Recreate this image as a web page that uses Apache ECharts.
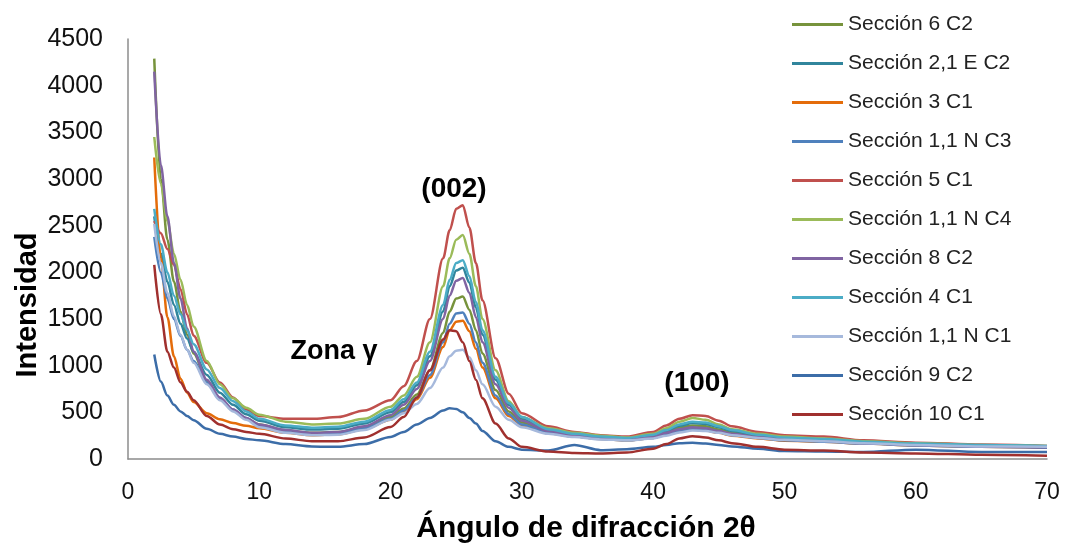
<!DOCTYPE html>
<html lang="es">
<head>
    <meta charset="UTF-8">
    <title>Difracción de rayos X</title>
    <script type="text/javascript" src="https://cdn.jsdelivr.net/npm/echarts@6/dist/echarts.min.js"></script>
    <style>
        body { margin: 0; background: #fff; }
    </style>
</head>
<body>
    <div id="main" style="width: 1068px;height:550px;"></div>

    <script type="text/javascript">
        // ángulo 2θ (muestreo)
        var angle = [2, 2.5, 3, 3.5, 4, 4.5, 5, 6, 7, 8, 9, 10, 12, 14, 16, 18, 20, 21, 22, 23, 24, 24.5, 25, 25.5,
                     26, 26.5, 27, 28, 29, 30, 32, 34, 36, 38, 40, 41, 42, 43, 44, 45, 46, 48, 50, 53, 56, 60, 65, 70];

        var s6C2   = [4290, 3000, 2350, 1900, 1580, 1330, 1130, 840, 650, 520, 430, 370, 305, 280, 290, 340, 450, 540, 690, 950, 1350, 1580, 1720, 1740, 1600, 1380, 1130, 740, 510, 390, 295, 255, 225, 210, 240, 285, 335, 360, 350, 315, 280, 240, 215, 200, 175, 155, 140, 130];
        var s21EC2 = [2600, 2200, 1900, 1650, 1450, 1290, 1150, 900, 710, 580, 480, 410, 340, 315, 325, 380, 500, 610, 790, 1100, 1580, 1850, 2020, 2050, 1890, 1620, 1330, 850, 580, 430, 310, 265, 235, 220, 250, 300, 355, 385, 375, 340, 300, 255, 225, 210, 180, 160, 145, 135];
        var s3C1   = [3230, 2150, 1520, 1100, 860, 710, 610, 490, 425, 385, 355, 330, 280, 255, 265, 320, 420, 510, 640, 870, 1200, 1380, 1470, 1480, 1370, 1180, 980, 650, 460, 360, 275, 240, 215, 200, 225, 260, 295, 315, 305, 280, 250, 220, 195, 185, 165, 145, 130, 120];
        var s11NC3 = [2380, 2000, 1720, 1500, 1320, 1170, 1050, 820, 650, 530, 440, 360, 290, 265, 275, 330, 430, 520, 660, 900, 1250, 1450, 1560, 1570, 1450, 1250, 1030, 680, 480, 370, 280, 240, 215, 200, 225, 265, 300, 320, 310, 285, 255, 225, 200, 185, 165, 145, 130, 120];
        var s5C1   = [2550, 2420, 2250, 2080, 1820, 1550, 1320, 1030, 820, 660, 530, 460, 430, 430, 450, 520, 630, 780, 1050, 1500, 2150, 2450, 2680, 2720, 2480, 2100, 1700, 1080, 700, 490, 350, 290, 255, 240, 290, 360, 430, 470, 460, 410, 350, 290, 255, 240, 200, 175, 155, 140];
        var s11NC4 = [3450, 2950, 2550, 2200, 1920, 1650, 1420, 1050, 800, 650, 550, 475, 400, 370, 380, 430, 560, 680, 880, 1250, 1850, 2150, 2350, 2400, 2200, 1850, 1500, 950, 620, 450, 330, 280, 250, 230, 270, 330, 400, 440, 420, 370, 320, 270, 240, 220, 190, 170, 150, 140];
        var s8C2   = [4150, 3150, 2600, 2100, 1720, 1400, 1150, 850, 660, 530, 440, 370, 310, 280, 290, 350, 470, 580, 750, 1050, 1500, 1750, 1910, 1940, 1780, 1520, 1250, 800, 550, 410, 300, 255, 225, 210, 235, 280, 320, 340, 330, 300, 270, 235, 210, 195, 170, 150, 135, 125];
        var s4C1   = [2680, 2300, 2000, 1750, 1550, 1380, 1230, 960, 760, 620, 510, 430, 360, 335, 345, 400, 525, 640, 820, 1150, 1650, 1920, 2100, 2130, 1960, 1680, 1380, 880, 600, 450, 320, 270, 240, 225, 260, 310, 370, 400, 390, 350, 310, 260, 230, 215, 185, 165, 150, 140];
        var s11NC1 = [2520, 2100, 1780, 1530, 1330, 1170, 1030, 800, 630, 510, 420, 340, 280, 255, 260, 310, 420, 490, 590, 760, 980, 1100, 1160, 1170, 1090, 950, 800, 560, 420, 340, 270, 235, 210, 200, 220, 250, 285, 305, 300, 280, 255, 225, 205, 190, 170, 150, 135, 130];
        var s9C2   = [1120, 830, 680, 580, 510, 460, 415, 325, 270, 240, 215, 200, 160, 135, 130, 160, 236, 290, 370, 440, 520, 545, 535, 500, 440, 380, 300, 190, 130, 100, 90, 150, 95, 105, 130, 150, 170, 175, 165, 150, 135, 110, 85, 80, 75, 100, 75, 75];
        var s10C1  = [2080, 1550, 1150, 980, 820, 720, 630, 460, 370, 320, 290, 270, 220, 190, 190, 230, 343, 450, 660, 950, 1280, 1380, 1370, 1250, 1050, 850, 650, 380, 220, 130, 80, 65, 60, 70, 110, 160, 220, 245, 230, 200, 170, 130, 100, 90, 70, 60, 45, 35];

        var names = ['Sección 6 C2', 'Sección 2,1 E C2', 'Sección 3 C1', 'Sección 1,1 N C3', 'Sección 5 C1',
                     'Sección 1,1 N C4', 'Sección 8 C2', 'Sección 4 C1', 'Sección 1,1 N C1', 'Sección 9 C2', 'Sección 10 C1'];
        var values = [s6C2, s21EC2, s3C1, s11NC3, s5C1, s11NC4, s8C2, s4C1, s11NC1, s9C2, s10C1];
        var colors = ['#77933C', '#31859C', '#E46C0A', '#4F81BD', '#C0504D', '#9BBB59',
                      '#8064A2', '#4BACC6', '#A6B9DC', '#3C6DA8', '#A0302E'];

        var font = "'Liberation Sans', Arial, sans-serif";

        var series = names.map(function (n, i) {
            return {
                name: n,
                type: 'line',
                showSymbol: false,
                smooth: 0.3,
                smoothMonotone: 'x',
                lineStyle: { width: 2.5, color: colors[i] },
                itemStyle: { color: colors[i] },
                data: angle.map(function (a, k) { return [a, values[i][k]]; })
            };
        });

        var myChart = echarts.init(document.getElementById('main'));

        var option = {
            animation: false,
            grid: { left: 128, right: 21, top: 39, bottom: 91 },
            legend: {
                orient: 'vertical',
                left: 787,
                top: 9,
                icon: 'rect',
                itemWidth: 51,
                itemHeight: 3,
                itemGap: 18,
                textStyle: { fontFamily: font, fontSize: 21, color: '#222' },
                data: names
            },
            xAxis: {
                type: 'value',
                min: 0,
                max: 70,
                interval: 10,
                axisLine: { lineStyle: { color: '#8c8c8c', width: 1.5 } },
                axisTick: { show: false },
                axisLabel: { margin: 22, fontFamily: font, fontSize: 23, color: '#111' },
                splitLine: { show: false }
            },
            yAxis: {
                type: 'value',
                min: 0,
                max: 4500,
                interval: 500,
                axisLine: { show: true, lineStyle: { color: '#8c8c8c', width: 1.5 } },
                axisTick: { show: false },
                axisLabel: {
                    margin: 25, fontFamily: font, fontSize: 25, color: '#111',
                    formatter: function (v) { return String(v); }
                },
                splitLine: { show: false }
            },
            graphic: [
                { type: 'text', x: 28, y: 305, rotation: Math.PI / 2,
                  style: { text: 'Intensidad', font: 'bold 29px ' + font, fill: '#000', align: 'center', verticalAlign: 'middle' } },
                { type: 'text', x: 586, y: 529,
                  style: { text: 'Ángulo de difracción 2θ', font: 'bold 30px ' + font, fill: '#000', align: 'center', verticalAlign: 'middle' } },
                { type: 'text', x: 454, y: 189,
                  style: { text: '(002)', font: 'bold 28px ' + font, fill: '#000', align: 'center', verticalAlign: 'middle' } },
                { type: 'text', x: 334, y: 352,
                  style: { text: 'Zona γ', font: 'bold 27px ' + font, fill: '#000', align: 'center', verticalAlign: 'middle' } },
                { type: 'text', x: 697, y: 383,
                  style: { text: '(100)', font: 'bold 28px ' + font, fill: '#000', align: 'center', verticalAlign: 'middle' } }
            ],
            series: series
        };

        myChart.setOption(option);
    </script>
</body>
</html>
